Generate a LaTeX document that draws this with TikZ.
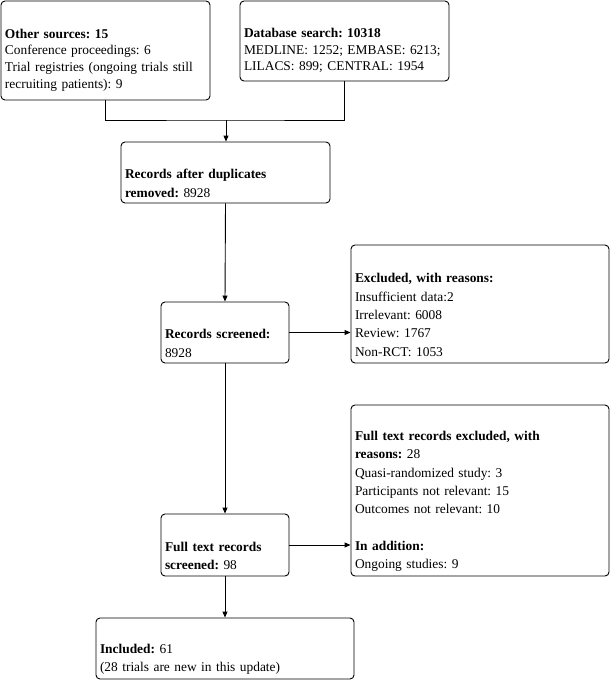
\documentclass[tikz,border=0pt]{standalone}
\usepackage{fontspec}
\setmainfont{Liberation Serif}
\usetikzlibrary{arrows.meta,calc}
\begin{document}
\frenchspacing
\begin{tikzpicture}[x=1pt,y=-1pt,
  box/.style={draw, line width=0.9pt, rounded corners=4pt, align=left,
    inner xsep=4pt, inner ysep=0pt, font=\fontsize{13.4}{18.3}\selectfont},
  tight/.style={font=\fontsize{13.4}{16.7}\selectfont},
  conn/.style={line width=0.9pt},
  arr/.style={line width=0.9pt, -{Triangle[length=6pt,width=5pt]}}]
\useasboundingbox (0,0) rectangle (612,680);
\node[box, tight, text width=201pt, minimum height=99pt] (src) at (105.5,50.5)
  {\strut\\ \textbf{Other sources: 15}\\ Conference proceedings: 6\\ Trial registries (ongoing trials still\\ recruiting patients): 9};
\node[box, tight, text width=201pt, minimum height=80pt] (db) at (344.5,41)
  {\strut\\ \textbf{Database search: 10318}\\ MEDLINE: 1252; EMBASE: 6213;\\ LILACS: 899; CENTRAL: 1954};
\node[box, text width=201pt, minimum height=61pt] (dup) at (225.5,172.5)
  {\strut\\ \textbf{Records after duplicates}\\ \textbf{removed:} 8928};
\node[box, text width=120pt, minimum height=61pt] (scr) at (225,332.5)
  {\strut\\ \textbf{Records screened:}\\ 8928};
\node[box, text width=250pt, minimum height=118pt] (exc) at (480,304)
  {\strut\\ \textbf{Excluded, with reasons:}\\ Insufficient data:2\\ Irrelevant: 6008\\ Review: 1767\\ Non-RCT: 1053};
\node[box, text width=120pt, minimum height=62pt] (ft) at (225,545)
  {\strut\\ \textbf{Full text records}\\ \textbf{screened:} 98};
\node[box, text width=250pt, minimum height=171pt] (ftx) at (480,490.5)
  {\strut\\ \textbf{Full text records excluded, with}\\ \textbf{reasons:} 28\\ Quasi-randomized study: 3\\ Participants not relevant: 15\\ Outcomes not relevant: 10\\ \mbox{}\\ \textbf{In addition:}\\ Ongoing studies: 9};
\node[box, text width=250pt, minimum height=61pt] (inc) at (225,648.5)
  {\strut\\ \textbf{Included:} 61\\ (28 trials are new in this update)};
\coordinate (merge) at (226,120);
\draw[conn] (src.south) |- (merge) -| (db.south);
\draw[arr] (merge) -- (merge |- dup.north);
\draw[arr] (dup.south) -- (scr.north);
\draw[arr] (scr.east) -- (scr.east -| exc.west);
\draw[arr] (scr.south) -- (ft.north);
\draw[arr] (ft.east) -- (ft.east -| ftx.west);
\draw[arr] (ft.south) -- (inc.north);
\end{tikzpicture}
\end{document}
